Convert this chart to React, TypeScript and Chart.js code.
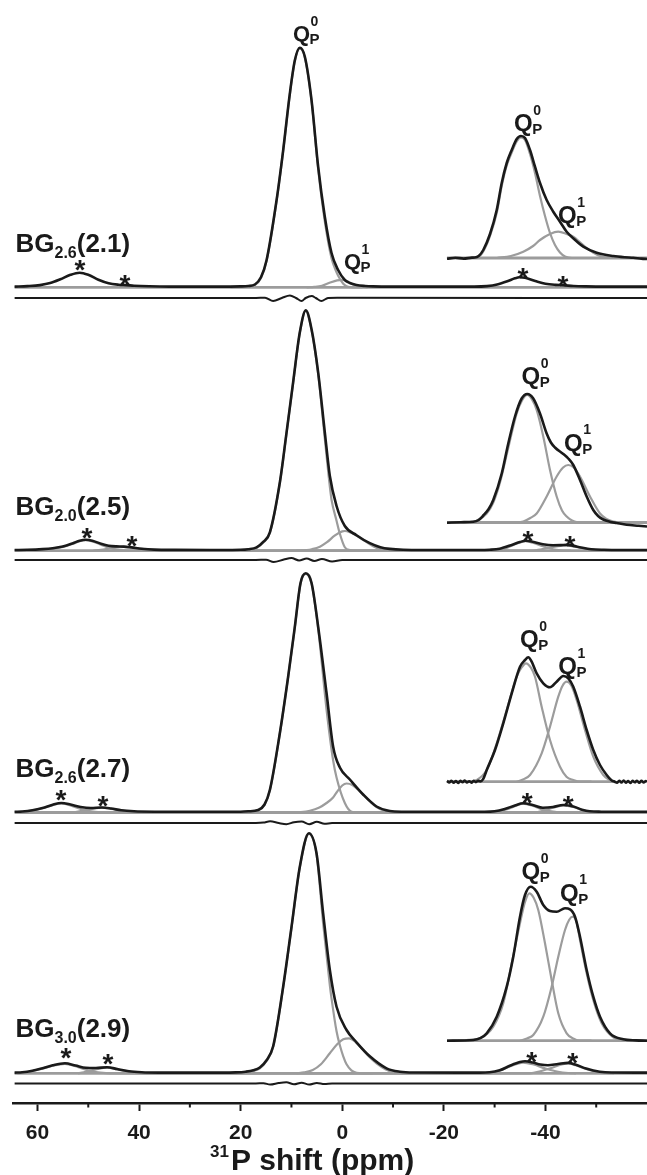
import React, { useEffect, useRef } from "react";
import { Chart, registerables } from "chart.js";

Chart.register(...registerables);

type Pt = [number, number];

// ---------------- axis / labels ----------------
const xMajorTicks = [60, 40, 20, 0, -20, -40];
const xMinorTicks = [50, 30, 10, -10, -30, -50];
const xTitleSup = "31";
const xTitle = "P shift (ppm)";
const panelNames = [
  { main: "BG", sub: "2.6", tail: "(2.1)" },
  { main: "BG", sub: "2.0", tail: "(2.5)" },
  { main: "BG", sub: "2.6", tail: "(2.7)" },
  { main: "BG", sub: "3.0", tail: "(2.9)" },
];

// ---------------- panel 1 : BG2.6(2.1) ----------------
const p1Black: Pt[] = [[64.5,0.7],[62,1.2],[59.5,2.2],[57.5,4.2],[55.5,8],[53.5,12.5],[51.7,14.6],[50,12.5],[48,7.5],[46,4],[44,2.6],[42.5,2.2],[41,1.6],[38,1],[34,0.7],[25,0.7],[20,0.9],[18.5,1.3],[17.2,2.8],[16,10],[14.9,27],[12.93,87],[11.63,137],[10.31,194],[9.33,227],[8.35,239.6],[7.36,230.6],[6.04,187],[4.74,120.6],[3.43,70.6],[2.11,34.3],[0.81,17.3],[-0.51,7.3],[-1.5,4.3],[-2.81,2.3],[-4.5,1.3],[-6.08,0.9],[-10,0.7],[-26,0.7],[-28.5,1.2],[-30.5,2.8],[-32.5,6],[-34,9],[-34.9,10],[-36,9.5],[-38,6.3],[-40,3.5],[-42,2.4],[-43.5,2.1],[-45.5,1.3],[-48,0.9],[-52,0.7],[-60,0.7]];
const p1Q0: Pt[] = [[22,0],[18.5,0.6],[17.2,2.1],[16,9.3],[14.9,26.3],[12.93,86.3],[11.63,136.3],[10.31,193.3],[9.33,226.3],[8.35,238.9],[7.36,229.9],[6.04,186.3],[4.74,118.5],[3.43,66],[2.11,29],[1.12,15],[0.47,8.5],[-0.2,3.5],[-0.85,1],[-2,0],[-4,0]];
const p1Q1: Pt[] = [[7,0],[5.5,0.4],[4,1.5],[2.5,4.5],[1,7],[0,7.5],[-1,6],[-2,3],[-3.5,0.7],[-5,0]];
const p1Resid: Pt[] = [[64.5,0],[17,0],[15.2,0.3],[13.6,-3],[11.9,0],[10.3,2.5],[9.1,0],[8,-3],[7.2,0],[6,2],[5.2,0],[4.1,-3],[2.8,0],[1,0.3],[-60,0]];
const p1InBlack: Pt[] = [[22,-0.8],[20.5,0.3],[19,-0.6],[17.5,0.4],[17,0.5],[16.3,2],[15.47,8],[14.26,24],[13.05,48],[12.15,75],[11.25,95],[10.35,108],[9.45,119],[8.68,122],[7.96,120],[7.06,108],[6.16,91.3],[5.26,75],[4.06,58],[2.87,46.3],[1.66,36.3],[0.46,26.3],[-0.73,19.7],[-2.53,11.3],[-4.94,5.3],[-7.93,2],[-10,0.8],[-11.53,0.3],[-13,-0.6],[-14,-1]];
const p1InQ0: Pt[] = [[18,0],[16.5,0.6],[15.47,6.5],[14.26,22],[13.05,45],[12.15,72],[11.25,92.5],[10.35,105.5],[9.45,116.5],[8.68,120.5],[7.96,118],[7.06,104],[6.16,85],[5.26,62],[4.36,42],[3.46,25],[2.56,13],[1.66,5.5],[0.76,1.5],[-0.5,0],[-3,0]];
const p1InQ1: Pt[] = [[13,0],[10.5,2],[8.27,6.3],[6.5,12],[5.26,18],[3.46,24],[1.97,26.3],[0.46,24],[-0.73,21.3],[-2,15.5],[-3.14,10],[-4.3,5.5],[-5.54,2],[-6.8,0.6],[-8.24,0]];

// ---------------- panel 2 : BG2.0(2.5) ----------------
const p2Black: Pt[] = [[64.5,0.7],[62,0.9],[59,1.6],[57,2.5],[55,4.2],[53,7.5],[51.7,10],[50.5,11],[49.2,10],[47.5,7],[46,5],[44.5,4.3],[43,4.1],[41.5,3.3],[39.5,2],[37,1.1],[33,0.8],[24,0.7],[20,0.9],[18.5,1.5],[16.87,3.4],[15.5,9],[14.25,18.4],[12.28,68.4],[10.96,118.4],[9.67,168.4],[8.35,218.4],[7.17,240.3],[6.04,221.4],[4.74,178.4],[3.43,118.4],[2.44,74.7],[1.12,44.7],[-0.51,24.7],[-2.81,15.5],[-5.43,7.5],[-7.5,3.5],[-9.37,1.8],[-12,0.9],[-16,0.7],[-27,0.7],[-29,1],[-31,2],[-33.5,6],[-35,8.7],[-36.1,10],[-37.5,9],[-39.5,6.5],[-41.5,5.5],[-43,5.6],[-44.2,5.8],[-45.5,4.8],[-47,3.2],[-49,1.5],[-51.5,0.9],[-55,0.7],[-60,0.7]];
const p2Q0: Pt[] = [[20,0],[18.5,0.8],[16.87,2.7],[15.5,8.3],[14.25,17.7],[12.28,67.7],[10.96,117.7],[9.67,167.7],[8.35,217.7],[7.17,240],[6.04,220.7],[4.74,176.5],[3.43,112],[2.44,64],[2.11,51],[1.12,30],[0.47,17],[-0.51,3.5],[-1.5,0.6],[-3,0],[-6,0]];
const p2Q1: Pt[] = [[9,0],[7,0.7],[6,1.5],[4.4,4],[3,8.5],[1.5,15],[0,19.3],[-0.5,19.7],[-1.5,18.5],[-2.5,16],[-3.5,13],[-5,8],[-6.1,4.5],[-7.5,1.7],[-9,0.4],[-10.5,0]];
const p2SbQ0: Pt[] = [[60,0],[57,1.8],[55,3.8],[53,7],[51.7,9.5],[50.5,10.5],[49.2,9.3],[47.5,6],[46,3],[44.5,1.2],[43,0.3],[41,0],[-30,0],[-31.5,1.2],[-33.5,5.3],[-35,8.2],[-36.1,9.5],[-37.5,8],[-39.5,4.5],[-41.5,1.5],[-43,0.4],[-45,0]];
const p2SbQ1: Pt[] = [[49,0],[47.5,0.8],[46,2],[44.5,3.2],[43,3.8],[41.5,3.2],[39.5,1.8],[37.5,0.7],[35,0],[-37,0],[-38.5,0.8],[-40.5,2.8],[-42.5,4.6],[-44.2,5.3],[-46,3.8],[-48,1.8],[-50,0.5],[-52,0]];
const p2Resid: Pt[] = [[64.5,0],[17,0],[15,0.3],[13.5,-2],[11.5,0.5],[10,2],[8.5,-0.5],[7,1.5],[5.5,-1],[4,1],[2,-1.5],[0,0],[-60,0]];
const p2InBlack: Pt[] = [[22,-0.2],[19.5,0.3],[17.27,0.8],[16.3,2.5],[15.47,7],[14.5,13.5],[13.67,22.5],[12.15,49],[10.97,79],[9.76,106],[8.56,124],[7.55,128.5],[6.47,124],[5.26,109],[4.06,89],[3.3,80],[2.56,75],[1.07,68.5],[0.17,64],[-0.73,57.5],[-1.94,42.5],[-3.14,26],[-4.33,12.5],[-5.2,6.5],[-6.13,3],[-7.3,0.8],[-8.54,-0.5],[-10.34,-2.3],[-12.5,-3.3],[-14,-4]];
const p2InQ0: Pt[] = [[19,0],[17.5,0.6],[16.65,1.8],[14.85,9],[13.67,20],[12.46,40],[11,74],[9.45,109],[8.5,122],[7.55,127.5],[6.7,123],[5.86,112.5],[4.67,86],[3.46,52.5],[2.26,26],[1.3,12],[0.46,6],[-0.5,2],[-1.34,0.3],[-3,0],[-5,0]];
const p2InQ1: Pt[] = [[10,0],[8.27,1],[7,4.5],[5.86,9],[4.06,26],[2.26,46],[1.1,55],[0.17,57.5],[-0.8,55],[-1.94,46],[-3.74,26],[-5.54,9],[-6.7,3.5],[-7.93,1],[-10,0]];

// ---------------- panel 3 : BG2.6(2.7) ----------------
const p3Black: Pt[] = [[64.5,0.7],[63,1],[61,2.2],[59,4.5],[57,7.8],[55.3,9.5],[53.5,8],[51.5,5.5],[49.5,4.5],[47.3,5],[45.5,4],[43.5,2.2],[41,1.2],[37,0.8],[24,0.7],[20,0.8],[18.5,1.2],[16.55,2.5],[15.3,8],[14.25,22.5],[12.28,79.5],[10.65,135.8],[9.33,185.8],[8.21,229.5],[7.17,239.2],[6.04,229.5],[4.74,185.8],[3.09,119.5],[1.79,65.8],[0.47,45],[-1.5,33],[-4.11,18],[-6.75,6],[-9.37,1.5],[-12,0.8],[-16,0.7],[-28,0.7],[-30,1.2],[-32,3.5],[-34,7],[-35.6,9.2],[-37.5,7.5],[-39.5,4.8],[-41.5,5.5],[-43.5,7.5],[-45.5,6],[-47.2,2.8],[-48.7,1.2],[-51,0.8],[-55,0.7],[-60,0.7]];
const p3Q0: Pt[] = [[20,0],[18.5,0.6],[16.55,2.2],[15.3,7.5],[14.25,22],[12.28,79],[10.65,135.3],[9.33,185.3],[8.21,229],[7.17,238.7],[6.04,229],[4.74,184],[3.09,103],[1.79,52],[1.12,35],[-0.51,9.5],[-1.83,0.8],[-3,0],[-6,0]];
const p3Q1: Pt[] = [[9,0],[6.38,1.8],[4.5,5],[3.09,9.5],[1.8,15],[1.12,20],[0,27],[-0.85,29],[-2,27.5],[-3,23.5],[-4.11,18],[-5.5,11],[-6.75,5.5],[-8,2.2],[-9.37,0.5],[-11,0]];
const p3SbQ0: Pt[] = [[64,0],[61,1.8],[59,4.2],[57,7.4],[55.3,9],[53.5,7],[51.5,3.5],[49.5,1.2],[47.5,0.2],[46,0],[-29,0],[-31,1.3],[-33,4.2],[-35.6,8.8],[-37.5,6.8],[-39.5,3],[-41.5,0.8],[-43,0]];
const p3SbQ1: Pt[] = [[53,0],[51.5,1.5],[49.5,3.4],[47.3,4.8],[45.5,3.7],[43.5,1.8],[41.5,0.5],[40,0],[-38,0],[-39.5,1.6],[-41.5,4.7],[-43.5,7.2],[-45.5,5.6],[-47.2,2.5],[-49,0.6],[-51,0]];
const p3Resid: Pt[] = [[64.5,0],[17,0],[15.5,0.4],[14.2,1.8],[12.5,0],[11,-1.2],[9.5,0.8],[8,1.5],[6.5,-1.2],[5,1.2],[3.5,-0.8],[2,0],[-60,0]];
const p3InBlack: Pt[] = [[22,0.8],[21.6,-0.8],[21.2,1],[20.8,-1],[20.4,0.6],[20,-1.2],[19.6,0.8],[19.2,-0.6],[18.8,1.2],[18.4,-0.8],[18,0.5],[17.6,-1],[17.2,1],[16.8,-0.5],[16.4,1],[16,0.3],[15.5,2.5],[14.85,11.7],[13.36,31.7],[11.87,58.4],[10.35,88.4],[8.86,115],[7.96,121.7],[7.37,124.4],[6.76,120],[5.86,108.4],[4.67,98.4],[3.46,94.4],[2.26,100],[1.07,105.7],[0.17,103.4],[-0.73,95],[-1.94,75],[-3.14,51.7],[-4.33,31.7],[-5.54,16.7],[-6.74,6.7],[-7.6,1.5],[-8.2,0],[-8.6,-1],[-9,1],[-9.4,-0.8],[-9.8,1.2],[-10.2,-1],[-10.6,0.6],[-11,-1.2],[-11.4,0.8],[-11.8,-0.6],[-12.2,1],[-12.6,-1],[-13,0.8],[-13.4,-0.8],[-13.8,0.6],[-14,0]];
const p3InQ0: Pt[] = [[18,0],[16.65,1.7],[14.85,11.7],[13.05,38.4],[11.25,71.7],[9.45,105],[8.6,114],[7.78,118.4],[6.9,114],[6.16,105],[4.96,75],[3.46,41.7],[1.66,15],[0.5,5],[-0.73,1.7],[-2,0],[-4,0]];
const p3InQ1: Pt[] = [[9.45,0],[8.2,2.5],[7.06,6.7],[4.96,28.4],[3.46,55],[1.97,85],[1.2,96],[0.46,100],[-0.4,96],[-1.34,81.7],[-2.84,51.7],[-4.33,25],[-6.13,6.7],[-7.2,2],[-8.24,0]];

// ---------------- panel 4 : BG3.0(2.9) ----------------
const p4Black: Pt[] = [[64.5,0.7],[63,1],[61,2.5],[59,5],[57,8],[54.6,10],[52.5,7.8],[50.5,5.5],[48.5,5.3],[46.3,6],[44.3,4.3],[42,2],[39.5,1],[36,0.7],[24,0.7],[21,0.9],[19,1.6],[17.5,3],[16.22,5.8],[14.9,13],[13.6,27],[11.63,86.6],[9.98,146.6],[8.35,206.6],[6.57,240],[5.06,220],[3.76,160],[2.44,103.3],[1.12,66.6],[-0.85,43.3],[-2.81,31],[-5.43,17],[-8.72,5],[-11.34,1.6],[-14,0.8],[-27,0.7],[-29,1],[-31,3],[-33,7.5],[-35,11.2],[-36,12],[-37.5,10.8],[-39,8.8],[-40.5,8],[-42.5,9.3],[-44.5,10.4],[-46,8.5],[-48,4.8],[-50.7,1.6],[-53,0.8],[-60,0.7]];
const p4Q0: Pt[] = [[21,0],[19,1],[17.5,2.4],[16.22,5],[14.9,12.3],[13.6,26.3],[11.63,86],[9.98,146],[8.35,206],[6.57,239.4],[5.06,219],[3.76,150],[2.44,88],[2.11,75],[1.12,42],[0.47,28],[-0.2,17],[-0.85,9],[-1.8,3],[-2.81,0.5],[-4,0],[-6,0]];
const p4Q1: Pt[] = [[9,0],[7.5,1],[5.8,3.3],[4.2,9],[2.44,20],[1,29],[-0.2,34],[-1.36,35],[-2.5,32],[-4.11,23.3],[-5.5,15.5],[-6.75,10],[-8.5,4],[-10.02,1],[-12,0]];
const p4SbQ0: Pt[] = [[64,0],[61,2.2],[59,4.7],[57,7.6],[54.6,9.5],[52.5,7],[50.5,3.5],[48.5,1.2],[46.5,0.2],[45,0],[-29,0],[-31,2.5],[-33,6.8],[-35.6,10.6],[-37.5,9],[-40,4.8],[-42.5,1.5],[-44.5,0.3],[-46,0]];
const p4SbQ1: Pt[] = [[52,0],[50.5,1.5],[48.5,4],[46.3,5.7],[44.3,4],[42,1.6],[40,0.4],[38.5,0],[-37,0],[-39,2],[-41,5],[-43,8.5],[-44.5,10],[-46,8],[-48,4.3],[-50,1.5],[-52,0.3],[-53.5,0]];
const p4Resid: Pt[] = [[64.5,0],[17,0],[15.5,0.3],[14.2,-1],[12.5,0.5],[11,1.2],[9.5,-0.8],[8,0.8],[6.5,-1],[5,0.6],[3.5,-0.5],[2,0],[-60,0]];
const p4InBlack: Pt[] = [[22,0],[17.27,0.7],[16,2.5],[14.85,7.4],[13.05,24],[11.25,54],[10.07,84],[8.86,124],[7.96,145.7],[6.94,154],[5.86,149],[4.67,135.7],[3.46,129.7],[2.26,129],[0.76,132.4],[-0.14,131.4],[-1.04,124],[-1.94,104],[-3.14,70.7],[-4.33,44],[-5.54,24],[-7.34,7.4],[-9.73,1.4],[-12,0.3],[-14,0]];
const p4InQ0: Pt[] = [[20,0],[18,0.8],[16.06,2.4],[13.67,14],[11.87,37.4],[10.35,77.4],[8.86,117.4],[8,138],[7.19,147.4],[6.4,143],[5.57,130.7],[4.36,97.4],[3.16,60.7],[1.97,27.4],[0.46,7.4],[-0.8,2],[-1.94,0],[-4,0]];
const p4InQ1: Pt[] = [[8.86,0],[7.5,2.5],[6.47,5.7],[4.67,24],[3.16,54],[1.97,84],[0.76,110.7],[0,121],[-0.62,124],[-1.3,119],[-1.94,100.7],[-3.14,67.4],[-4.33,40.7],[-5.84,17.4],[-7.93,3.4],[-10.34,0],[-12,0]];

// baselines of the fits
const mainBaseline: Pt[] = [[64.5, 0], [-60, 0]];
const insetBaseline: Pt[] = [[22, 0], [-14, 0]];
const insetBaselineShort: Pt[] = [[22, 0], [-8.24, 0]];

// ---------------- layout / style ----------------
const W = 647;
const H = 1175;
const AXIS_Y = 1103;
const AREA_LEFT = 13.6;
const X_AXIS_H = 44;
const X_MIN = -60;
const X_MAX = 64.7;
const INSET = { left: 447, right: 647, ppmLeft: 22, ppmRight: -14 };
const BLACK = "#1a1a1a";
const GRAY = "#9c9c9c";
const FONT = '"Liberation Sans", Arial, Helvetica, sans-serif';
const TITLE_LEFT = 210;

const PANELS = [
  { base: 287.3, resid: 298, inset: 258, label: 251.5 },
  { base: 550.7, resid: 560, inset: 522.5, label: 514.7 },
  { base: 812.5, resid: 823, inset: 781.7, label: 776.5 },
  { base: 1073.3, resid: 1083.5, inset: 1040.7, label: 1037.3 },
];

const SERIES = [
  { black: p1Black, grays: [p1Q0, p1Q1], resid: p1Resid, inBlack: p1InBlack, inGrays: [p1InQ0, p1InQ1], inBase: insetBaseline },
  { black: p2Black, grays: [p2Q0, p2Q1, p2SbQ0, p2SbQ1], resid: p2Resid, inBlack: p2InBlack, inGrays: [p2InQ0, p2InQ1], inBase: insetBaseline },
  { black: p3Black, grays: [p3Q0, p3Q1, p3SbQ0, p3SbQ1], resid: p3Resid, inBlack: p3InBlack, inGrays: [p3InQ0, p3InQ1], inBase: insetBaselineShort },
  { black: p4Black, grays: [p4Q0, p4Q1, p4SbQ0, p4SbQ1], resid: p4Resid, inBlack: p4InBlack, inGrays: [p4InQ0, p4InQ1], inBase: insetBaseline },
];

// Q labels: left x, baseline y, size, superscript
const Q_LABELS = [
  { x: 293, y: 41, size: 22, sup: "0" },
  { x: 344, y: 269, size: 22, sup: "1" },
  { x: 514, y: 131, size: 24, sup: "0" },
  { x: 558, y: 223, size: 24, sup: "1" },
  { x: 521.5, y: 384, size: 24, sup: "0" },
  { x: 564, y: 450.5, size: 24, sup: "1" },
  { x: 520, y: 647, size: 24, sup: "0" },
  { x: 558.3, y: 674, size: 24, sup: "1" },
  { x: 521.5, y: 879, size: 24, sup: "0" },
  { x: 560, y: 900.5, size: 24, sup: "1" },
];

const ASTERISKS: Pt[] = [
  [80, 263.3], [125, 278.3], [523, 271.7], [563, 279],
  [87, 531], [132, 539], [528, 534], [570, 539.3],
  [61, 793], [103, 799], [527.3, 796.7], [568.3, 799],
  [66, 1051], [108, 1057], [531.7, 1055.7], [572.7, 1056.7],
];

function line(data: Pt[], offset: number, color: string, width: number, xAxisID: string, order: number) {
  return {
    data: data.map(([x, y]) => ({ x, y: offset + y })),
    borderColor: color,
    borderWidth: width,
    pointRadius: 0,
    pointHoverRadius: 0,
    fill: false,
    cubicInterpolationMode: "monotone" as const,
    xAxisID,
    yAxisID: "y",
    order,
  };
}

const annotationPlugin = {
  id: "nmrAnnotations",
  afterDraw(chart: any) {
    const ctx = chart.ctx as CanvasRenderingContext2D;
    const xs = chart.scales.x;
    ctx.save();
    ctx.fillStyle = BLACK;
    ctx.strokeStyle = BLACK;
    ctx.textAlign = "left";
    ctx.textBaseline = "alphabetic";

    // minor ticks
    ctx.lineWidth = 2;
    xMinorTicks.forEach((v) => {
      const px = xs.getPixelForValue(v);
      ctx.beginPath();
      ctx.moveTo(px, AXIS_Y);
      ctx.lineTo(px, AXIS_Y + 4.5);
      ctx.stroke();
    });

    // panel names
    panelNames.forEach((n, i) => {
      const y = PANELS[i].label;
      let x = 15.5;
      ctx.font = `bold 26px ${FONT}`;
      ctx.fillText(n.main, x, y);
      x += ctx.measureText(n.main).width;
      ctx.font = `bold 16px ${FONT}`;
      ctx.fillText(n.sub, x, y + 6);
      x += ctx.measureText(n.sub).width;
      ctx.font = `bold 26px ${FONT}`;
      ctx.fillText(n.tail, x, y);
    });

    // Q labels
    Q_LABELS.forEach((q) => {
      ctx.font = `bold ${q.size}px ${FONT}`;
      ctx.fillText("Q", q.x, q.y);
      const qw = ctx.measureText("Q").width;
      const top = q.y - 0.716 * q.size;
      ctx.font = `bold 14px ${FONT}`;
      ctx.fillText(q.sup, q.x + qw + 0.5, top + 1);
      ctx.font = `bold 15px ${FONT}`;
      ctx.fillText("P", q.x + qw - 0.5, q.y + 3);
    });

    // spinning side band asterisks
    ctx.font = `bold 28px ${FONT}`;
    ctx.textAlign = "center";
    ASTERISKS.forEach(([x, y]) => ctx.fillText("*", x, y + 0.56 * 28));

    // axis title with superscript
    ctx.textAlign = "left";
    ctx.font = `bold 17px ${FONT}`;
    const sw = ctx.measureText(xTitleSup).width;
    ctx.fillText(xTitleSup, TITLE_LEFT, 1157);
    ctx.font = `bold 30px ${FONT}`;
    ctx.fillText(xTitle, TITLE_LEFT + sw + 2, 1169.5);
    ctx.restore();
  },
};

export default function App() {
  const ref = useRef<HTMLCanvasElement | null>(null);

  useEffect(() => {
    if (!ref.current) return;
    const areaW = W - AREA_LEFT;
    const insetRange = ((INSET.ppmLeft - INSET.ppmRight) * areaW) / (INSET.right - INSET.left);
    const insetMin = INSET.ppmRight - ((W - INSET.right) / areaW) * insetRange;
    const insetMax = insetMin + insetRange;

    const datasets: any[] = [];
    SERIES.forEach((s, i) => {
      const p = PANELS[i];
      const off = AXIS_Y - p.base;
      const offR = AXIS_Y - p.resid;
      const offI = AXIS_Y - p.inset;
      datasets.push(line(s.black, off, BLACK, 2.6, "x", 1));
      datasets.push(line(s.resid, offR, BLACK, 2, "x", 1));
      datasets.push(line(s.inBlack, offI, BLACK, 2.6, "xi", 1));
      datasets.push(line(mainBaseline, off, GRAY, 2.8, "x", 2));
      s.grays.forEach((g) => datasets.push(line(g, off, GRAY, 2.2, "x", 2)));
      datasets.push(line(s.inBase, offI, GRAY, 2.8, "xi", 2));
      s.inGrays.forEach((g) => datasets.push(line(g, offI, GRAY, 2.2, "xi", 2)));
    });

    const chart = new Chart(ref.current, {
      type: "line",
      data: { datasets },
      options: {
        animation: false,
        responsive: false,
        events: [],
        layout: {
          autoPadding: false,
          padding: { left: AREA_LEFT, right: 0, top: 0, bottom: H - AXIS_Y - X_AXIS_H },
        },
        plugins: { legend: { display: false }, tooltip: { enabled: false }, title: { display: false } },
        scales: {
          x: {
            type: "linear",
            position: "bottom",
            reverse: true,
            min: X_MIN,
            max: X_MAX,
            afterBuildTicks: (scale: any) => {
              scale.ticks = xMajorTicks.map((v) => ({ value: v }));
            },
            afterFit: (scale: any) => {
              scale.height = X_AXIS_H;
            },
            grid: {
              display: true,
              drawOnChartArea: false,
              drawTicks: true,
              tickLength: 8,
              tickWidth: 2,
              tickColor: BLACK,
            },
            border: { display: true, color: BLACK, width: 2.5 },
            ticks: {
              color: BLACK,
              padding: 10,
              maxRotation: 0,
              autoSkip: false,
              font: { family: FONT, size: 21, weight: "bold" },
              callback: (v: any) => String(v),
            },
          },
          xi: {
            type: "linear",
            axis: "x",
            position: "bottom",
            display: false,
            reverse: true,
            min: insetMin,
            max: insetMax,
          },
          y: { type: "linear", display: false, min: 0, max: AXIS_Y },
        },
      },
      plugins: [annotationPlugin],
    } as any);
    return () => chart.destroy();
  }, []);

  return (
    <div style={{ position: "absolute", left: 0, top: 0, width: W, height: H, background: "#fff" }}>
      <canvas ref={ref} width={W} height={H} style={{ display: "block" }} />
    </div>
  );
}
